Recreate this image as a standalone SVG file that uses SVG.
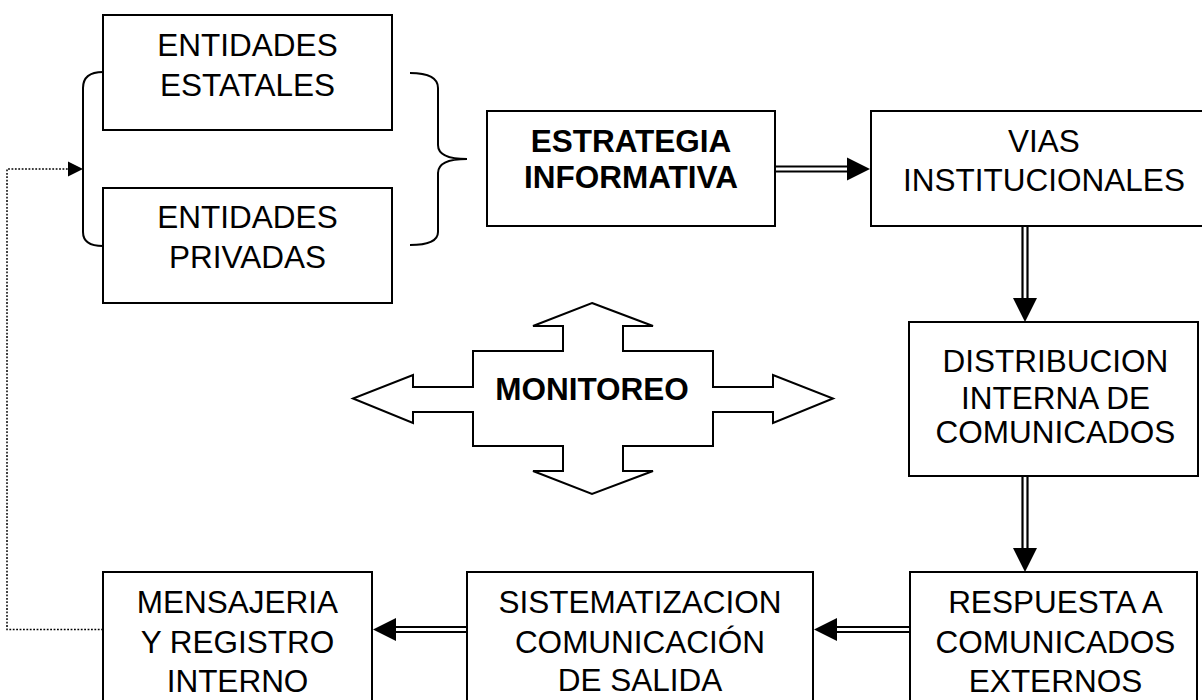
<svg xmlns="http://www.w3.org/2000/svg" width="1202" height="700" viewBox="0 0 1202 700">
<style>
.box{fill:#fff;stroke:#000;stroke-width:2}
.t{font-family:"Liberation Sans",Arial,sans-serif;font-size:31.5px;fill:#000;text-anchor:middle}
.b{font-weight:bold}
.dl{stroke:#000;stroke-width:2.2;fill:none}
.hd{fill:#000;stroke:none}
.br{fill:none;stroke:#000;stroke-width:2}
.dot{fill:none;stroke:#000;stroke-width:1.5;stroke-dasharray:1.8 1.6}
</style>
<rect width="1202" height="700" fill="#fff"/>
<g id="connectors">
<path class="dot" d="M103,629.5 H7 V169 H69"/>
<polygon class="hd" points="68,161.5 83,169 68,176.5"/>
<path class="br" d="M103,72 Q83,72 83,88 V232 Q83,246 103,246"/>
<path class="br" d="M410,73 Q438,73 438,88 V145 Q438,159 467,159 Q438,159 438,173 V232 Q438,245 410,245"/>
<line class="dl" x1="775" y1="166.5" x2="848" y2="166.5"/>
<line class="dl" x1="775" y1="171.5" x2="848" y2="171.5"/>
<polygon class="hd" points="847,157.5 870,169 847,180.5"/>
<line class="dl" x1="1022.5" y1="226" x2="1022.5" y2="299"/>
<line class="dl" x1="1027.5" y1="226" x2="1027.5" y2="299"/>
<polygon class="hd" points="1013,298 1037,298 1025,322"/>
<line class="dl" x1="1022.5" y1="476" x2="1022.5" y2="549"/>
<line class="dl" x1="1027.5" y1="476" x2="1027.5" y2="549"/>
<polygon class="hd" points="1013,548 1037,548 1025,572"/>
<line class="dl" x1="910" y1="627" x2="836" y2="627"/>
<line class="dl" x1="910" y1="632" x2="836" y2="632"/>
<polygon class="hd" points="837,618 814,629.5 837,641"/>
<line class="dl" x1="467" y1="627" x2="395" y2="627"/>
<line class="dl" x1="467" y1="632" x2="395" y2="632"/>
<polygon class="hd" points="396,618 373,629.5 396,641"/>
</g>
<g id="estatales">
<rect class="box" x="103" y="15" width="289" height="115"/>
<text class="t" x="247.5" y="56">ENTIDADES</text>
<text class="t" x="247.5" y="96">ESTATALES</text>
</g>
<g id="privadas">
<rect class="box" x="103" y="188" width="289" height="115"/>
<text class="t" x="247.5" y="228">ENTIDADES</text>
<text class="t" x="247.5" y="268">PRIVADAS</text>
</g>
<g id="estrategia">
<rect class="box" x="487" y="111" width="288" height="115"/>
<text class="t b" x="631" y="152">ESTRATEGIA</text>
<text class="t b" x="631" y="188">INFORMATIVA</text>
</g>
<g id="vias">
<rect class="box" x="871" y="111" width="350" height="115"/>
<text class="t" x="1044" y="152">VIAS</text>
<text class="t" x="1044" y="191">INSTITUCIONALES</text>
</g>
<g id="distribucion">
<rect class="box" x="909" y="322" width="289" height="154"/>
<text class="t" x="1055.5" y="372">DISTRIBUCION</text>
<text class="t" x="1055.5" y="409">INTERNA DE</text>
<text class="t" x="1055.5" y="443">COMUNICADOS</text>
</g>
<g id="respuesta">
<rect class="box" x="910" y="572" width="287" height="140"/>
<text class="t" x="1055.5" y="613">RESPUESTA A</text>
<text class="t" x="1055.5" y="653">COMUNICADOS</text>
<text class="t" x="1055.5" y="692">EXTERNOS</text>
</g>
<g id="sistematizacion">
<rect class="box" x="467" y="572" width="346" height="140"/>
<text class="t" x="640" y="613">SISTEMATIZACION</text>
<text class="t" x="640" y="653">COMUNICACIÓN</text>
<text class="t" x="640" y="691">DE SALIDA</text>
</g>
<g id="mensajeria">
<rect class="box" x="103" y="572" width="269" height="140"/>
<text class="t" x="237.5" y="613">MENSAJERIA</text>
<text class="t" x="237.5" y="653">Y REGISTRO</text>
<text class="t" x="237.5" y="692">INTERNO</text>
</g>
<g id="monitoreo">
<polygon class="box" points="592,303 653,326 623,326 623,351 713,351 713,387 773,387 773,375 833,398.5 773,423 773,412 713,412 713,446 623,446 623,471 653,471 592,494 533,471 563,471 563,446 473,446 473,412 413,412 413,423 353,398.5 413,375 413,387 473,387 473,351 563,351 563,326 533,326"/>
<text class="t b" x="592" y="400">MONITOREO</text>
</g>
</svg>
